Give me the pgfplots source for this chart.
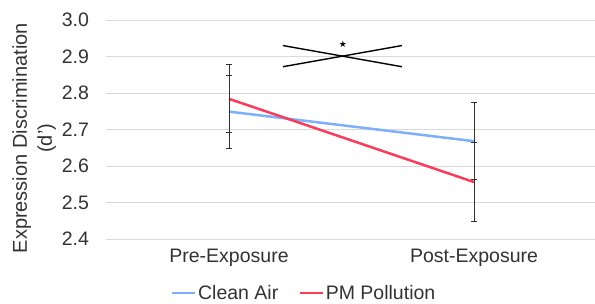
\documentclass[border=0pt]{standalone}
\usepackage{fontspec}
\setmainfont{Liberation Sans}
\newfontfamily\dejavu{DejaVu Sans}
\usepackage{pgfplots}
\pgfplotsset{compat=1.18}
\definecolor{cblue}{RGB}{125,176,250}
\definecolor{cred}{RGB}{250,60,90}
\definecolor{tgray}{RGB}{50,50,50}
\definecolor{ggray}{RGB}{217,217,217}
\begin{document}
\begin{tikzpicture}[x=1pt,y=1pt]
\begin{axis}[
  at={(106.5pt,65pt)}, anchor=south west,
  scale only axis, width=490pt, height=219pt,
  xmin=0, xmax=2, ymin=2.4, ymax=3.0,
  xtick={0.5,1.5}, xticklabels={Pre-Exposure,Post-Exposure},
  ytick={2.4,2.5,2.6,2.7,2.8,2.9,3.0},
  yticklabel style={/pgf/number format/fixed, /pgf/number format/fixed zerofill, /pgf/number format/precision=1, xshift=-14pt},
  /pgf/number format/assume math mode=true,
  xticklabel style={yshift=-7pt},
  tick label style={font=\fontsize{19.5}{23}\selectfont, text=tgray},
  major tick length=0pt,
  axis line style={draw=none},
  ymajorgrids, grid style={ggray, line width=0.8pt},
  ylabel={Expression Discrimination\\(d')},
  ylabel style={at={(ticklabel cs:0.46)}, align=center, font=\fontsize{20}{25}\selectfont, text=tgray, yshift=-1pt},
  legend style={at={(0.403,-0.247)}, anchor=center, draw=none, fill=none,
    font=\fontsize{19.5}{23}\selectfont, text=tgray, inner sep=0pt,
    /tikz/every even column/.append style={column sep=18pt}},
  legend columns=2,
  legend cell align=left,
  legend image code/.code={\draw[#1, line width=2.5pt] (0pt,0pt) -- (23pt,0pt);},
  error bars/error bar style={line width=0.9pt, tgray},
  error bars/error mark options={rotate=90, mark size=3pt, line width=0.9pt, tgray},
]
\addplot[cblue, line width=2.5pt, error bars/.cd, y dir=both, y explicit]
  table[x=x, y=y, y error=e] {
x y e
0.5 2.749 0.100
1.5 2.668 0.106
};
\addlegendentry{Clean Air}
\addplot[cred, line width=2.5pt, error bars/.cd, y dir=both, y explicit]
  table[x=x, y=y, y error=e] {
x y e
0.5 2.784 0.093
1.5 2.556 0.108
};
\addlegendentry{PM Pollution}
\addplot[black, line width=1.4pt, forget plot] coordinates {(0.72,2.930) (1.206,2.872)};
\addplot[black, line width=1.4pt, forget plot] coordinates {(0.72,2.872) (1.206,2.930)};
\node[font=\dejavu\fontsize{9}{9}\selectfont, inner sep=0pt] at (axis cs:0.965,2.933) {★};
\end{axis}
\pgfresetboundingbox
\useasboundingbox (0,0) rectangle (595,304);
\end{tikzpicture}
\end{document}
